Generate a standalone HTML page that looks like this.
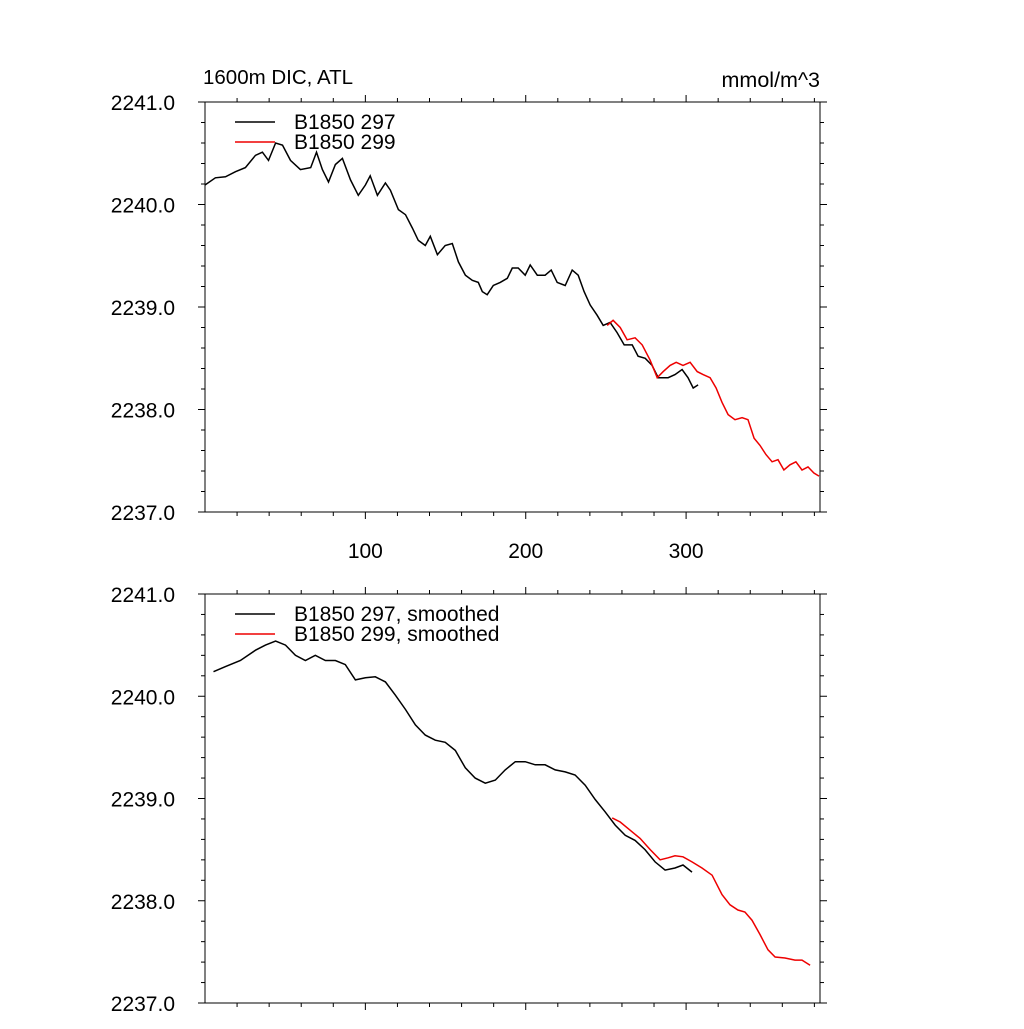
<!DOCTYPE html>
<html><head><meta charset="utf-8"><style>
body{margin:0;background:#fff}
svg text{font-family:"Liberation Sans",sans-serif;fill:#000}
</style></head><body>
<svg id="chart" width="1024" height="1024"></svg>
<script>
const xTicks=[100,200,300];
const yTicks=[2237,2238,2239,2240,2241];
const rawBlackX=[0,6.5,12.8,19,25.2,31.5,35.8,39.6,44,48.3,53.3,59.5,65.9,69.5,73.2,77,81.3,85.7,90.7,95.6,100,103,107.5,112.5,115.6,120.6,125,129.3,133,137.4,140.5,144.9,149.8,154.2,158,162.4,166.7,170.4,172.9,176,179.8,184.1,188.5,191.6,195.3,199.7,202.8,207.2,212.1,215.9,219.6,224.6,229,232.7,236.4,240.2,244.5,248.3,252.6,257,261.4,266.4,270.1,274.5,278.8,282.6,288.8,293.1,297.5,301.2,304.4,307.5];
const rawBlackY=[2240.19,2240.26,2240.27,2240.32,2240.36,2240.48,2240.51,2240.43,2240.60,2240.58,2240.43,2240.34,2240.36,2240.51,2240.34,2240.22,2240.39,2240.45,2240.24,2240.09,2240.19,2240.28,2240.09,2240.21,2240.14,2239.95,2239.90,2239.77,2239.65,2239.60,2239.69,2239.51,2239.60,2239.62,2239.44,2239.31,2239.26,2239.24,2239.15,2239.12,2239.21,2239.24,2239.28,2239.38,2239.38,2239.31,2239.41,2239.31,2239.31,2239.36,2239.24,2239.21,2239.36,2239.31,2239.15,2239.02,2238.92,2238.82,2238.85,2238.75,2238.63,2238.63,2238.52,2238.50,2238.43,2238.31,2238.31,2238.34,2238.39,2238.31,2238.21,2238.24];
const rawRedX=[250.8,254.5,258.9,263.2,268.2,272.6,277.6,282,285.7,290,293.8,298.1,302.5,306.9,310.6,315,318.7,322.4,326.2,330.5,334.9,338.6,342.4,346.1,349.8,353.6,357.3,361,364.8,368.5,372.3,376,379.7,382.9];
const rawRedY=[2238.82,2238.87,2238.80,2238.68,2238.70,2238.63,2238.48,2238.31,2238.37,2238.43,2238.46,2238.43,2238.46,2238.37,2238.34,2238.31,2238.21,2238.07,2237.95,2237.90,2237.92,2237.90,2237.72,2237.65,2237.56,2237.49,2237.51,2237.41,2237.46,2237.49,2237.41,2237.44,2237.38,2237.35];
const smBlackX=[5.3,12.8,22.1,31.5,37.7,44,50.2,56.4,62.6,68.8,75.1,81.3,87.5,93.8,100,106.2,112.5,118.7,125,131.2,137.4,143.6,149.8,156.1,162.3,168.5,174.8,181,187.2,193.5,199.7,205.9,212.1,218.4,224.6,230.8,237.1,243.3,249.5,255.8,262,268.2,274.4,280.7,286.9,293.1,298.1,303.7];
const smBlackY=[2240.24,2240.29,2240.35,2240.45,2240.50,2240.54,2240.50,2240.40,2240.35,2240.40,2240.35,2240.35,2240.31,2240.16,2240.18,2240.19,2240.14,2240.01,2239.87,2239.72,2239.62,2239.57,2239.55,2239.47,2239.30,2239.20,2239.15,2239.18,2239.28,2239.36,2239.36,2239.33,2239.33,2239.28,2239.26,2239.23,2239.13,2238.99,2238.87,2238.74,2238.64,2238.59,2238.50,2238.38,2238.30,2238.32,2238.35,2238.28];
const smRedX=[253.9,258.9,265.1,271.3,277.6,283.8,288.8,293.1,298.1,303.7,309.9,316.2,322.4,327.4,332.3,336.7,341.1,346.1,351.1,355.5,361.7,367.9,372.3,377.3];
const smRedY=[2238.81,2238.77,2238.69,2238.61,2238.50,2238.40,2238.42,2238.44,2238.43,2238.38,2238.32,2238.25,2238.06,2237.96,2237.91,2237.89,2237.81,2237.67,2237.52,2237.45,2237.44,2237.42,2237.42,2237.37];

const NS='http://www.w3.org/2000/svg';
const svg=document.getElementById('chart');
function el(t,a,p){const e=document.createElementNS(NS,t);for(const k in a)e.setAttribute(k,a[k]);(p||svg).appendChild(e);return e;}
const L=205,R=820,XMIN=0,XMAX=383.5;
function sx(v){return L+(v-XMIN)/(XMAX-XMIN)*(R-L);}
function panel(top,bot,name,series,legend,labelsX){
  const g=el('g',{});
  
  
  const sy=v=>bot-(v-2237)/4*(bot-top);
  el('rect',{x:L,y:top,width:R-L,height:bot-top,fill:'none',stroke:'#000','stroke-width':1},g);
  for(let v=20;v<XMAX;v+=20){const x=sx(v);const maj=v%100===0;const len=maj?7:4;
    el('line',{x1:x,x2:x,y1:top,y2:top-len,stroke:'#000'},g);
    el('line',{x1:x,x2:x,y1:bot,y2:bot+len,stroke:'#000'},g);}
  if(labelsX) xTicks.forEach(v=>{const t=el('text',{x:sx(v),y:bot+46,'font-size':21,'text-anchor':'middle'},g);t.textContent=v;
    });
  for(let v=2237;v<=2241.001;v+=0.2){const y=sy(v);const maj=Math.abs(v-Math.round(v))<0.01;const len=maj?7:4;
    el('line',{x1:L,x2:L-len,y1:y,y2:y,stroke:'#000'},g);
    el('line',{x1:R,x2:R+len,y1:y,y2:y,stroke:'#000'},g);}
  yTicks.forEach(v=>{const t=el('text',{x:175,y:sy(v)+8,'font-size':21,'text-anchor':'end'},g);t.textContent=v.toFixed(1);
    });
  series.forEach(s=>{const d=s.x.map((x,i)=>(i?'L':'M')+sx(x).toFixed(1)+','+sy(s.y[i]).toFixed(1)).join('');
    const p=el('path',{d:d,fill:'none',stroke:s.c,'stroke-width':1.5},g);
    });
  legend.forEach((t,i)=>{const y=top+20+i*20;
    el('line',{x1:235,x2:275,y1:y,y2:y,stroke:i?'#e00':'#000','stroke-width':1.5},g);
    const tx=el('text',{x:294,y:y+7,'font-size':21},g);tx.textContent=t;
    });
}
panel(102,512,'top-panel',[{x:rawBlackX,y:rawBlackY,c:'#000',n:'series-297-raw'},{x:rawRedX,y:rawRedY,c:'#e00',n:'series-299-raw'}],['B1850 297','B1850 299'],true);
panel(594,1003,'bottom-panel',[{x:smBlackX,y:smBlackY,c:'#000',n:'series-297-smoothed'},{x:smRedX,y:smRedY,c:'#e00',n:'series-299-smoothed'}],['B1850 297, smoothed','B1850 299, smoothed'],false);
const t1=el('text',{x:203,y:84,'font-size':20.5});t1.textContent='1600m DIC, ATL';


const t2=el('text',{x:820,y:87,'font-size':21.5,'text-anchor':'end'});t2.textContent='mmol/m^3';


</script>
</body></html>
